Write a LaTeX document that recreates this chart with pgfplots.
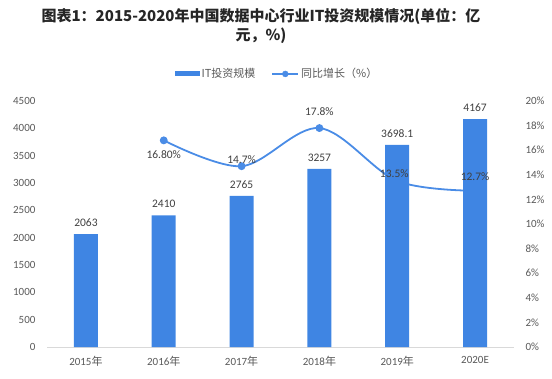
\documentclass[border=0pt]{standalone}
\usepackage{pgfplots}
\pgfplotsset{compat=1.18}
\usepackage{fontspec}
\setmainfont{Carlito}
\newfontfamily\cjk{Noto Sans CJK SC}
\definecolor{barblue}{HTML}{3F85E3}
\definecolor{lineblue}{HTML}{4A8CE6}
\definecolor{txt}{HTML}{404040}
\definecolor{tick}{HTML}{595959}
\definecolor{axgray}{HTML}{D9D9D9}
\begin{document}
\begin{tikzpicture}[x=1pt,y=1pt]
\useasboundingbox (0,0) rectangle (552,378);
\node[font=\cjk\bfseries\fontsize{15}{19}\selectfont, align=center, text=black!85] at (261,352)
  {图表1：2015-2020年中国数据中心行业IT投资规模情况(单位：亿\\元，\%)};
% line axis (drawn first, behind bars)
\begin{axis}[
  at={(47pt,31pt)}, anchor=south west, scale only axis,
  width=467pt, height=246pt,
  xmin=-0.5, xmax=5.5, ymin=0, ymax=20,
  axis x line=none, axis y line*=right, y axis line style={draw=none},
  major tick length=0pt,
  ytick={0,2,...,20},
  yticklabels={0\%,2\%,4\%,6\%,8\%,10\%,12\%,14\%,16\%,18\%,20\%},
  yticklabel style={font=\fontsize{11}{13}\selectfont, text=tick, xshift=8pt},
]
\addplot[lineblue, line width=1.8pt, smooth, tension=0.55, mark=*, mark size=3pt,
  mark options={fill=lineblue, draw=lineblue}]
  coordinates {(1,16.8) (2,14.7) (3,17.8) (4,13.5) (5,12.7)};
\end{axis}
% bar axis
\begin{axis}[
  at={(47pt,31pt)}, anchor=south west, scale only axis,
  width=467pt, height=246pt,
  xmin=-0.5, xmax=5.5, ymin=0, ymax=4500,
  axis x line*=bottom, axis y line*=left,
  x axis line style={draw=axgray, line width=0.8pt},
  y axis line style={draw=none},
  major tick length=0pt,
  xtick={0,...,5},
  xticklabels={2015{\cjk 年},2016{\cjk 年},2017{\cjk 年},2018{\cjk 年},2019{\cjk 年},2020E},
  xticklabel style={font=\fontsize{11}{13}\selectfont, text=tick, yshift=-6pt},
  ytick={0,500,...,4500},
  /pgf/number format/assume math mode=true,
  /pgf/number format/1000 sep={},
  yticklabel style={font=\fontsize{11}{13}\selectfont, text=tick, xshift=-8pt},
  legend style={at={(axis description cs:0.4925,1.11)}, anchor=center, draw=none, fill=none,
    font=\cjk\fontsize{11}{13}\selectfont, text=tick, legend columns=2,
    /tikz/every even column/.append style={column sep=14pt}},
]
\addplot[ybar, bar width=24pt, fill=barblue, draw=none,
  nodes near coords, point meta=explicit symbolic,
  every node near coord/.append style={font=\fontsize{11.5}{13}\selectfont, text=txt, anchor=south, yshift=4pt},
  legend image code/.code={\fill[barblue] (0pt,-2.5pt) rectangle (25pt,2.5pt);}]
  coordinates {(0,2063)[2063] (1,2410)[2410] (2,2765)[2765] (3,3257)[3257] (4,3698.1)[3698.1] (5,4167)[4167]};
\addlegendentry{IT投资规模}
\addlegendimage{legend image code/.code={\draw[lineblue, line width=1.8pt] (0pt,0pt)--(26pt,0pt); \fill[lineblue] (13pt,0pt) circle (3pt);}}
\addlegendentry{同比增长（\%）}
% percent labels (y in bar units: p*225)
\node[font=\fontsize{11.5}{13}\selectfont, text=txt] at (axis cs:1,3780) [yshift=-14pt] {16.80\%};
\node[font=\fontsize{11.5}{13}\selectfont, text=txt] at (axis cs:2,3307.5) [yshift=7pt] {14.7\%};
\node[font=\fontsize{11.5}{13}\selectfont, text=txt] at (axis cs:3,4005) [yshift=16pt] {17.8\%};
\node[font=\fontsize{11.5}{13}\selectfont, text=txt] at (axis cs:4,3037.5) [xshift=-3pt, yshift=7pt] {13.5\%};
\node[font=\fontsize{11.5}{13}\selectfont, text=txt] at (axis cs:5,2857.5) [yshift=14pt] {12.7\%};
\end{axis}
\end{tikzpicture}
\end{document}
